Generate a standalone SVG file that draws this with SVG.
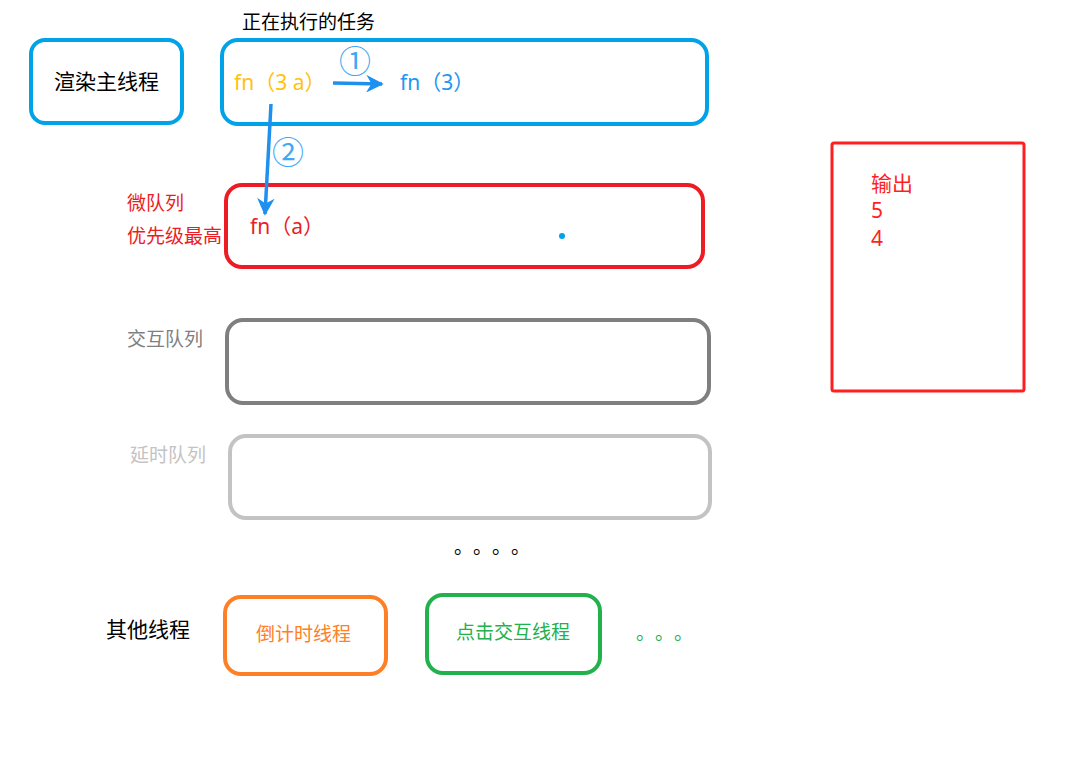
<svg xmlns="http://www.w3.org/2000/svg" width="1087" height="778" viewBox="0 0 1087 778">
<style>
.box{fill:none;stroke-width:4}
.t{font-family:"Noto Sans","Noto Sans CJK SC",sans-serif}
.c{font-family:"Noto Sans CJK SC","Noto Sans",sans-serif}
</style>
<defs>
<marker id="ah" viewBox="0 0 10 10" refX="9" refY="5" markerWidth="5" markerHeight="5" markerUnits="strokeWidth" orient="auto">
<path d="M0,0 L10,5 L0,10 L3,5 Z" fill="#1e90f0"/>
</marker>
</defs>
<rect width="1087" height="778" fill="#fff"/>
<g id="title"><text class="c" x="242" y="29" font-size="19" fill="#000">正在执行的任务</text></g>
<g id="main-thread">
<rect class="box" x="31" y="40" width="151" height="83" rx="14" stroke="#00a2e8"/>
<text class="c" x="54" y="89" font-size="21" fill="#000">渲染主线程</text>
</g>
<g id="running-task">
<rect class="box" x="222" y="40" width="485" height="84" rx="16" stroke="#00a2e8"/>
<text class="t" x="234" y="90" font-size="21" fill="#ffc20e">fn（3 a）</text>
<text class="t" x="400" y="90" font-size="21" fill="#2596f0">fn（3）</text>
</g>
<g id="micro-queue">
<rect class="box" x="226" y="185" width="477" height="82" rx="16" stroke="#ed1c24"/>
<text class="c" x="127" y="210" font-size="19" fill="#ed1c24">微队列</text>
<text class="c" x="127" y="243" font-size="19" fill="#ed1c24">优先级最高</text>
<text class="t" x="250" y="234" font-size="21" fill="#ed1c24">fn（a）</text>
<circle cx="562" cy="236" r="3" fill="#00a2e8"/>
</g>
<g id="interaction-queue">
<rect class="box" x="227" y="320" width="482" height="83" rx="16" stroke="#7f7f7f"/>
<text class="c" x="127" y="346" font-size="19" fill="#7f7f7f">交互队列</text>
</g>
<g id="delay-queue">
<rect class="box" x="230" y="436" width="480" height="82" rx="16" stroke="#c3c3c3"/>
<text class="c" x="130" y="462" font-size="19" fill="#c3c3c3">延时队列</text>
</g>
<g id="more-queues"><text class="c" x="454 473 492 511" y="554" font-size="19" fill="#000">。。。。</text></g>
<g id="other-threads"><text class="c" x="106" y="637" font-size="21" fill="#000">其他线程</text></g>
<g id="timer-thread">
<rect class="box" x="225" y="597" width="161" height="77" rx="16" stroke="#ff7f27"/>
<text class="c" x="256" y="641" font-size="19" fill="#ff7f27">倒计时线程</text>
</g>
<g id="click-thread">
<rect class="box" x="427" y="595" width="173" height="78" rx="16" stroke="#22b14c"/>
<text class="c" x="456" y="639" font-size="19" fill="#22b14c">点击交互线程</text>
</g>
<g id="more-threads"><text class="c" x="636 655 674" y="640" font-size="19" fill="#22b14c">。。。</text></g>
<g id="output">
<rect x="832" y="143" width="192" height="248" rx="2" fill="none" stroke="#ff1f1f" stroke-width="3"/>
<text class="c" x="871" y="191" font-size="21" fill="#ff1f1f">输出</text>
<text class="t" x="871" y="218" font-size="21" fill="#ff1f1f">5</text>
<text class="t" x="871" y="246" font-size="21" fill="#ff1f1f">4</text>
</g>
<g id="connectors">
<line x1="333" y1="83" x2="382" y2="84" stroke="#1e90f0" stroke-width="3.5" marker-end="url(#ah)"/>
<text class="c" x="339" y="73" font-size="32" fill="#3fa9f5">①</text>
<line x1="271" y1="104" x2="265" y2="214" stroke="#1e90f0" stroke-width="3.5" marker-end="url(#ah)"/>
<text class="c" x="272" y="164" font-size="32" fill="#3fa9f5">②</text>
</g>
</svg>
